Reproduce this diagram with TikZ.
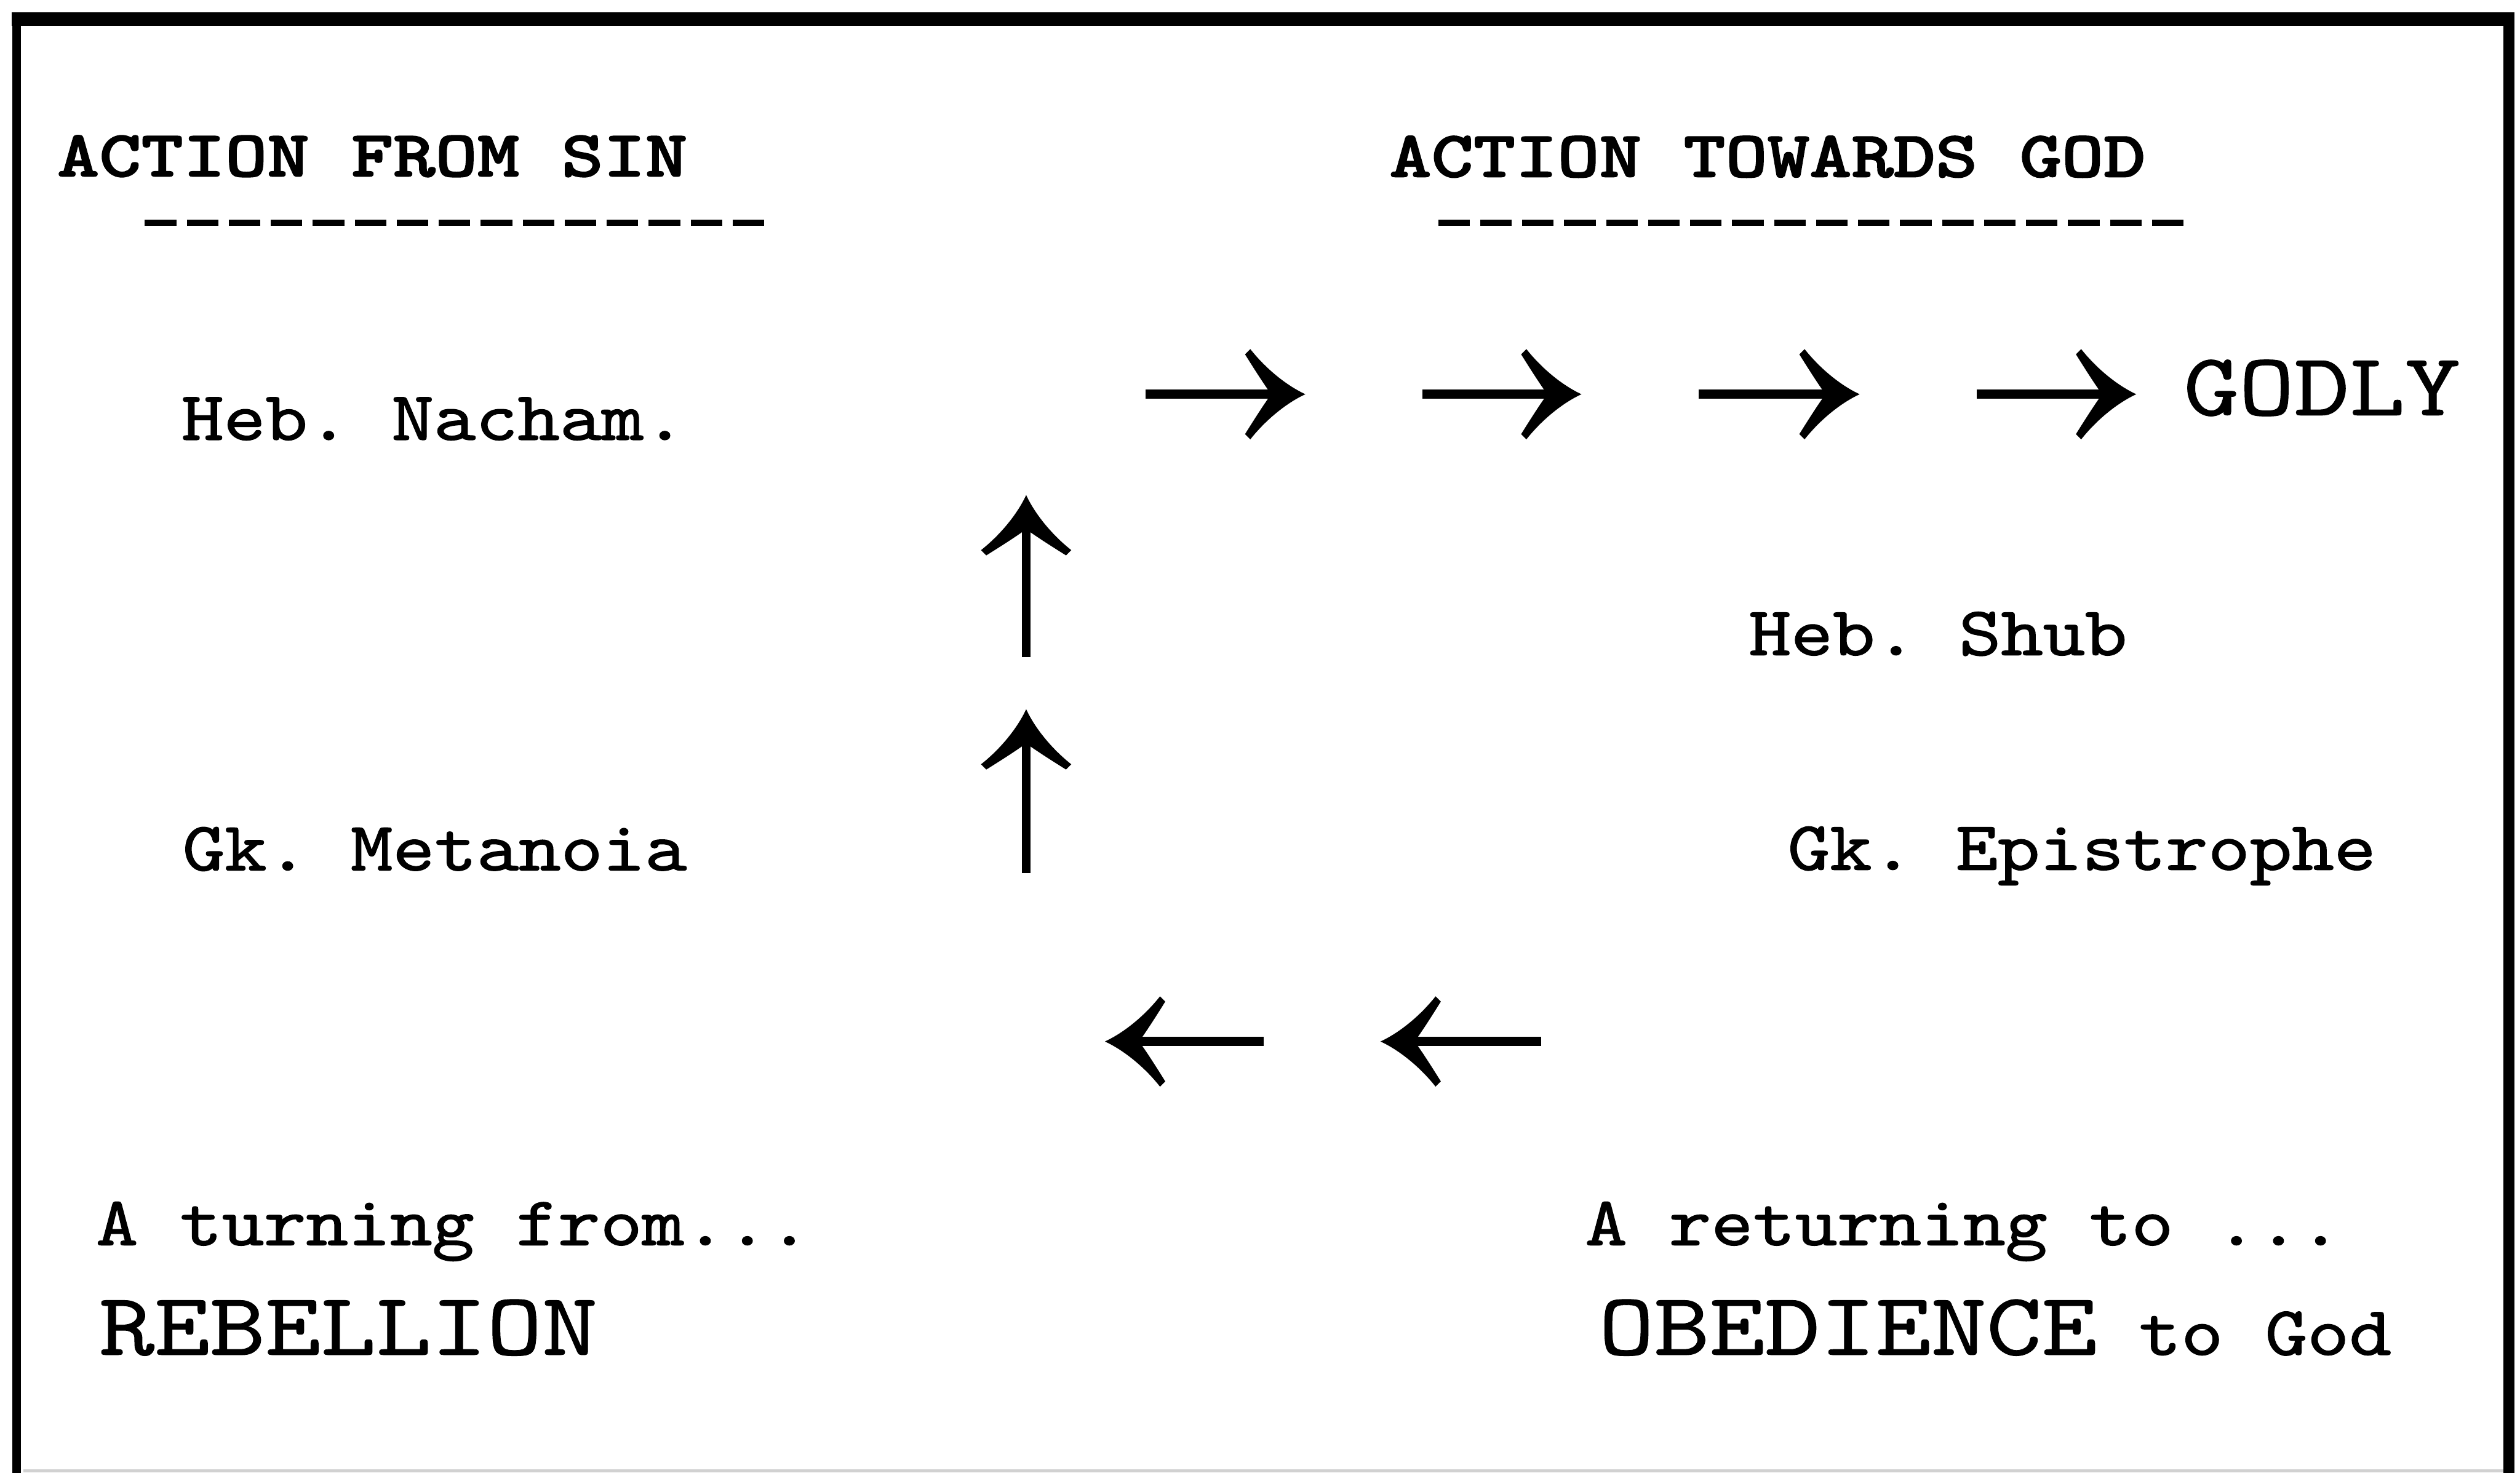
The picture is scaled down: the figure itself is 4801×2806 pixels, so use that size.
\documentclass[tikz,border=0pt]{standalone}
\usepackage{graphicx}
\usetikzlibrary{arrows.meta}
\frenchspacing

% typewriter-style arrow head: two thick, tapering barbs
\pgfdeclarearrow{
  name = TypeBarb,
  setup code = {
    \pgfarrowssettipend{0.3pt}
    \pgfarrowssetlineend{-4.5pt}
    \pgfarrowssetbackend{-11.2pt}
    \pgfarrowshullpoint{0.3pt}{0pt}
    \pgfarrowshullpoint{-11.2pt}{8.6pt}
    \pgfarrowshullpoint{-11.2pt}{-8.6pt}
  },
  drawing code = {
    \pgfpathmoveto{\pgfqpoint{0.3pt}{0pt}}
    \pgfpathcurveto{\pgfqpoint{-3.2pt}{1.6pt}}{\pgfqpoint{-7.2pt}{4.8pt}}{\pgfqpoint{-10.2pt}{8.6pt}}
    \pgfpathlineto{\pgfqpoint{-11.2pt}{7.6pt}}
    \pgfpathcurveto{\pgfqpoint{-9.2pt}{4.4pt}}{\pgfqpoint{-7.4pt}{1.6pt}}{\pgfqpoint{-6.2pt}{0pt}}
    \pgfpathcurveto{\pgfqpoint{-7.4pt}{-1.6pt}}{\pgfqpoint{-9.2pt}{-4.4pt}}{\pgfqpoint{-11.2pt}{-7.6pt}}
    \pgfpathlineto{\pgfqpoint{-10.2pt}{-8.6pt}}
    \pgfpathcurveto{\pgfqpoint{-7.2pt}{-4.8pt}}{\pgfqpoint{-3.2pt}{-1.6pt}}{\pgfqpoint{0.3pt}{0pt}}
    \pgfpathclose
    \pgfusepathqfill
  }
}

% typewriter faces: heavy headings, regular labels, large key words
\font\hdfont="[lmmonolt10-bold]:embolden=1.5" at 12.55pt
\font\regfont="[lmmono10-regular]:embolden=1.2" at 13.26pt
\font\bigfont="[lmmono10-regular]:embolden=0.6" at 17pt
\newcommand\headtxt[1]{\scalebox{1.215}[1]{\hdfont #1}}
\newcommand\regtxt[1]{\scalebox{1.150}[1]{\regfont #1}}
\newcommand\bigtxt[1]{\scalebox{1.182}[1]{\bigfont #1}}

\begin{document}
\begin{tikzpicture}[x=0.1pt,y=-0.1pt,
  txt/.style={inner sep=0pt,outer sep=0pt,anchor=base west},
  rule/.style={fill=black},
  underline/.style={line width=1.2pt,dash pattern=on 6pt off 2pt},
  flow/.style={line width=1.7pt,line cap=butt,-{TypeBarb}}]
\useasboundingbox (0,0) rectangle (4801,2806);

% frame, open at the foot
\fill[rule] (22,23) rectangle (4791,49);
\fill[rule] (24,23) rectangle (40,2806);
\fill[rule] (4769,23) rectangle (4791,2806);
\draw[black!18,line width=0.5pt] (44,2802) -- (4769,2802);

% headings
\node[txt] (hdrL) at (109,336) {\headtxt{ACTION FROM SIN}};
\node[txt] (hdrR) at (2647,337) {\headtxt{ACTION TOWARDS GOD}};
\draw[underline] (276,424) -- (1456,424);
\draw[underline] (2740,424) -- (4162,424);

% labels
\node[txt] (nacham) at (346,838) {\regtxt{Heb. Nacham.}};
\node[txt] (metanoia) at (348,1658) {\regtxt{Gk. Metanoia}};
\node[txt] (shub) at (3332,1248) {\regtxt{Heb. Shub}};
\node[txt] (epistrophe) at (3406,1657) {\regtxt{Gk. Epistrophe}};
\node[txt] (godly) at (4160,791) {\bigtxt{GODLY}};
\node[txt] (turnfrom) at (183,2372) {\regtxt{A turning from...}};
\node[txt] (rebellion) at (189,2581) {\bigtxt{REBELLION}};
\node[txt] (returnto) at (3020,2372) {\regtxt{A returning to ...}};
\node[txt] (obedience) at (3046,2581) {\bigtxt{OBEDIENCE}\regtxt{\ to God}};

% arrows towards God
\coordinate (r1s) at (2183,751); \coordinate (r1e) at (2487,751);
\coordinate (r2s) at (2710,751); \coordinate (r2e) at (3013,751);
\coordinate (r3s) at (3236,751); \coordinate (r3e) at (3543,751);
\coordinate (r4s) at (3766,751); \coordinate (r4e) at (4070,751);
\draw[flow] (r1s) -- (r1e);
\draw[flow] (r2s) -- (r2e);
\draw[flow] (r3s) -- (r3e);
\draw[flow] (r4s) -- (r4e);

% arrows upward
\coordinate (u1s) at (1955,1252); \coordinate (u1e) at (1955,943);
\coordinate (u2s) at (1955,1663); \coordinate (u2e) at (1955,1351);
\draw[flow] (u1s) -- (u1e);
\draw[flow] (u2s) -- (u2e);

% arrows back from sin
\coordinate (l1s) at (2408,1984); \coordinate (l1e) at (2105,1984);
\coordinate (l2s) at (2936,1984); \coordinate (l2e) at (2630,1984);
\draw[flow] (l1s) -- (l1e);
\draw[flow] (l2s) -- (l2e);
\end{tikzpicture}
\end{document}
